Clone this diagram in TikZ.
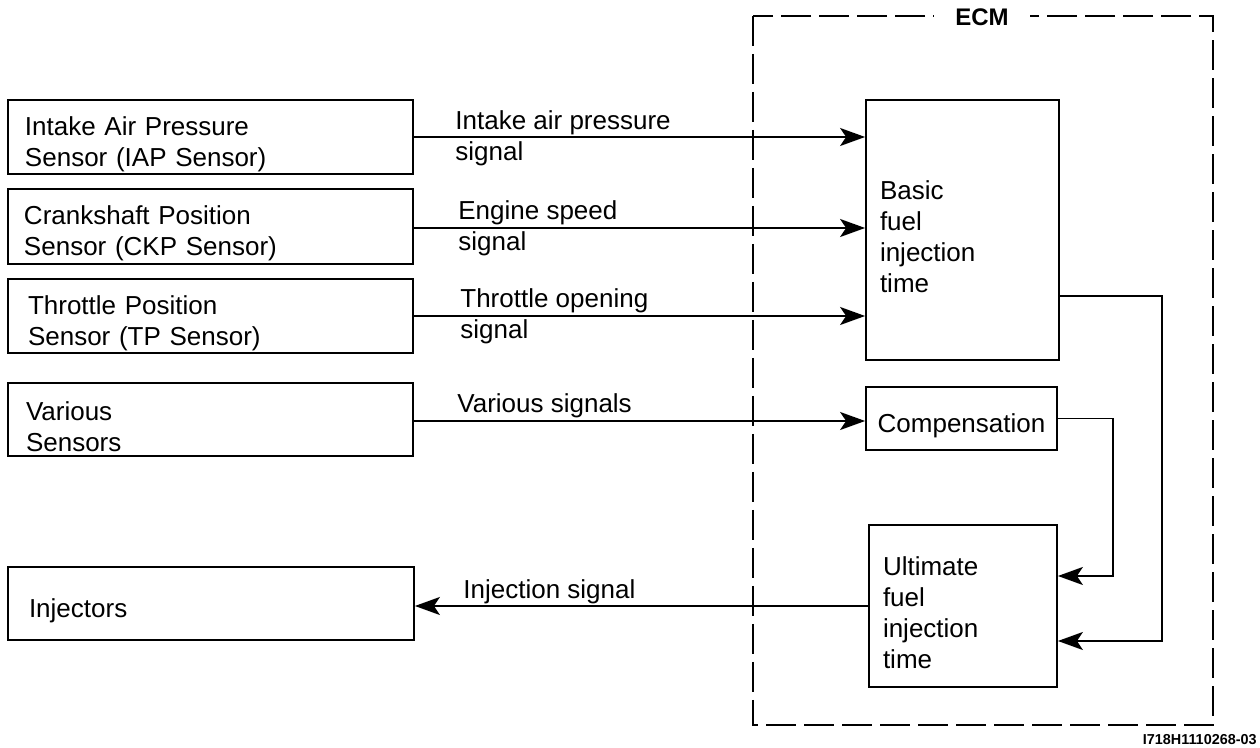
\documentclass[tikz,border=0pt]{standalone}
\usepackage{fontspec}
\setmainfont{Liberation Sans}
\usetikzlibrary{arrows.meta}
\tikzset{
  base font/.style={font=\fontsize{13}{15.5}\selectfont},
  box/.style={draw, line width=0.9pt, base font, align=left, inner ysep=0pt,
    execute at begin node={\rule{0pt}{16.5pt}}},
  sensor/.style={box, minimum height=37pt},
  arr/.style={line width=0.9pt, -{Stealth[length=12.5pt,width=9pt,inset=3pt]}},
  conn/.style={line width=0.9pt},
  lbl/.style={base font, align=left, inner sep=0pt, anchor=base west},
  ecmbox/.style={line width=0.9pt, dash pattern=on 15pt off 4pt}
}
\begin{document}
\begin{tikzpicture}[x=0.5pt,y=-0.5pt]
\useasboundingbox (0,0) rectangle (1260,748);
% ECM dashed frame
\draw[ecmbox] (753,16) rectangle (1213,725);
\node[fill=white, font=\fontsize{12}{14}\selectfont\bfseries, inner xsep=10.75pt, inner ysep=1pt] (ecm) at (982,17) {ECM};
% sensor boxes
\node[sensor, inner xsep=8.5pt, text width=185.5pt] (s1) at (210.5,137) {Intake Air Pressure\\Sensor (IAP Sensor)};
\node[sensor, inner xsep=8pt, text width=186.5pt, minimum height=37.5pt] (s2) at (210.5,226.5) {Crankshaft Position\\Sensor (CKP Sensor)};
\node[sensor, inner xsep=10pt, text width=182.5pt] (s3) at (210.5,316) {Throttle Position\\Sensor (TP Sensor)};
\node[sensor, inner xsep=9pt, text width=184.5pt, minimum height=36.5pt] (s4) at (210.5,419.5) {Various\\Sensors};
\node[sensor, inner xsep=10.5pt, text width=182pt, minimum height=36.5pt] (inj) at (211,603.5) {Injectors};
% ECM internal boxes
\node[box, inner xsep=7pt, text width=82.5pt, minimum height=130pt] (basic) at (962.5,230) {Basic\\fuel\\injection\\time};
\node[box, align=center, inner xsep=0pt, text width=95.5pt, minimum height=31.5pt] (comp) at (961.5,418.5) {Compensation};
\node[box, inner xsep=7pt, text width=80pt, minimum height=81pt] (ult) at (963,606) {Ultimate\\fuel\\injection\\time};
% input arrows
\draw[arr] (s1.east) -- (basic.west |- s1.east);
\draw[arr] (s2.east |- 0,228) -- (basic.west |- 0,228);
\draw[arr] (s3.east) -- (basic.west |- s3.east);
\draw[arr] (s4.east |- 0,421) -- (comp.west |- 0,421);
\draw[arr] (ult.west) -- (inj.east |- ult.west);
% internal connections
\coordinate (bturn) at (1162,641);
\coordinate (cturn) at (1113,576);
\draw[arr] (basic.east |- 0,296) -| (bturn) -- (ult.east |- bturn);
\draw[arr] (comp.east) -| (cturn) -- (ult.east |- cturn);
% labels (anchor at the baseline of the last line)
\node[lbl] (l1) at (455,161) {Intake air pressure\\signal};
\node[lbl] (l2) at (458,251) {Engine speed\\signal};
\node[lbl] (l3) at (460,339) {Throttle opening\\signal};
\node[lbl] (l4) at (457,413) {Various signals};
\node[lbl] (l5) at (463,599) {Injection signal};
% figure code
\node[font=\fontsize{7.2}{8}\selectfont\bfseries, inner sep=0pt, anchor=base east] (code) at (1257,745) {I718H1110268-03};
\end{tikzpicture}
\end{document}
